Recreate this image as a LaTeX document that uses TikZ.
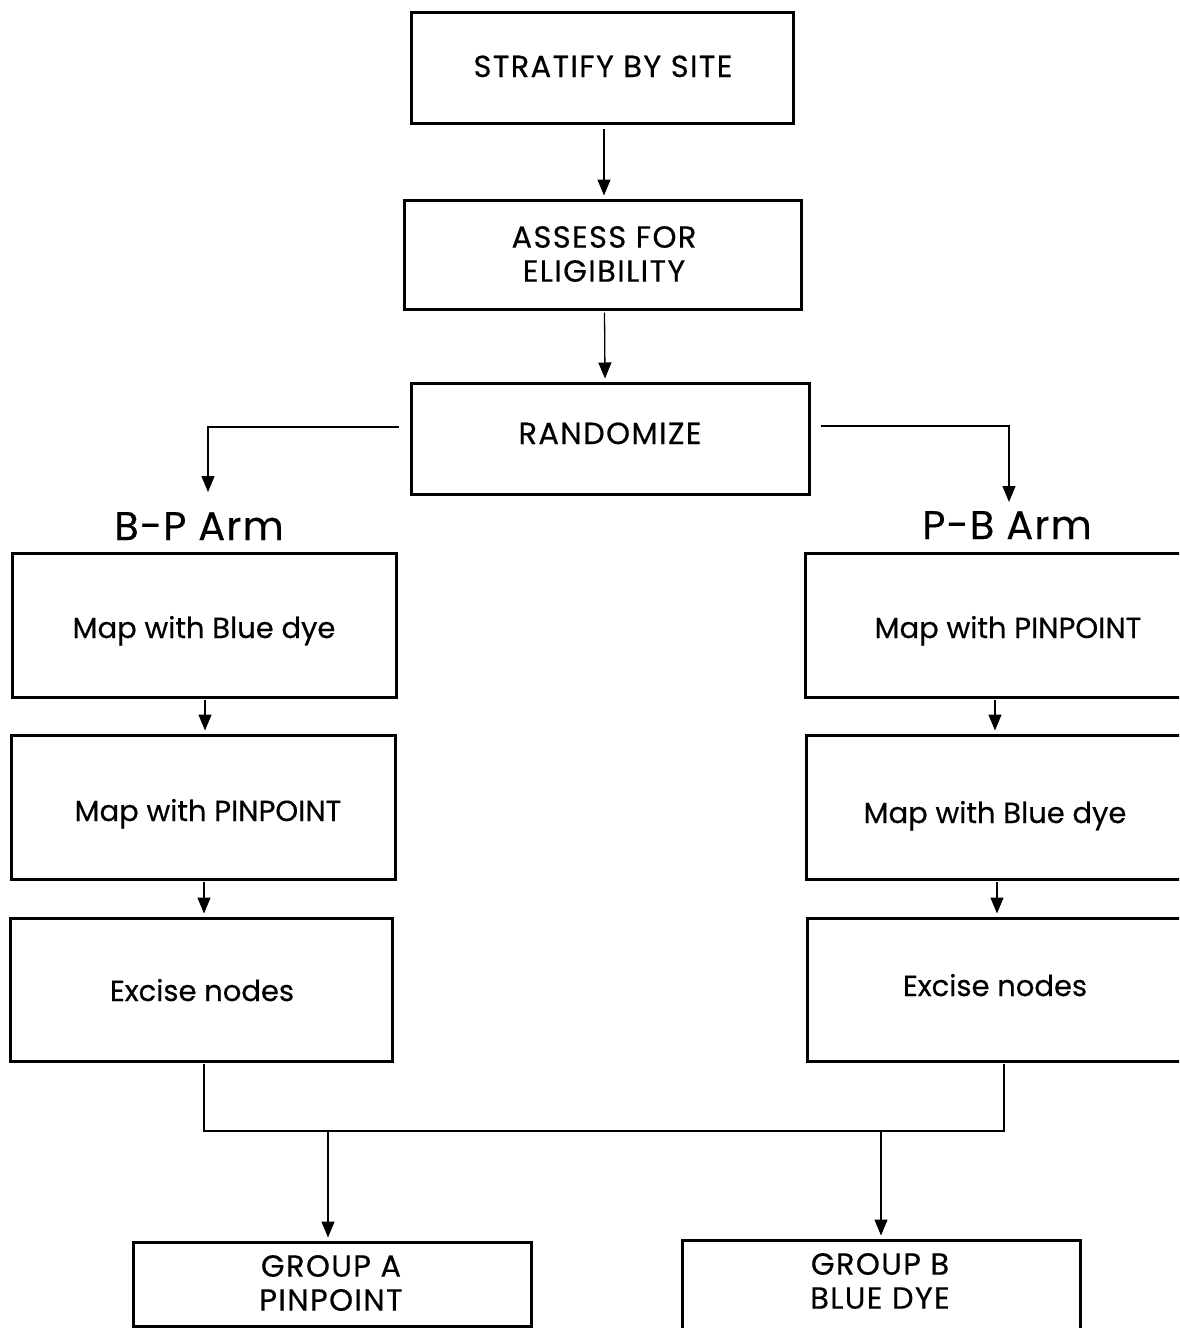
\documentclass[tikz,border=0pt]{standalone}
\usepackage{fontspec}
\setmainfont{Poppins}[FakeBold=0.4]
\usetikzlibrary{arrows.meta,calc}
\begin{document}
\begin{tikzpicture}[x=1pt,y=-1pt,
  box/.style={draw=black,line width=3pt,inner sep=0pt},
  txt/.style={inner sep=0pt,anchor=base,font=\fontsize{29}{34}\selectfont},
  captxt/.style={inner sep=0pt,align=center,font=\fontsize{30.5}{34}\selectfont\addfontfeature{LetterSpace=4.5}},
  armlabel/.style={inner sep=0pt,anchor=base,font=\fontsize{40}{46}\selectfont\addfontfeature{LetterSpace=3}},
  conn/.style={draw=black,line width=1.3pt},
  arr/.style={conn,-{Triangle[width=13pt,length=16pt]}}]
\clip (0,0) rectangle (1179,1328);
\fill[white] (0,0) rectangle (1179,1328);
% top chain
\node[box,minimum width=382pt,minimum height=111pt] (strat) at (602,67.5) {};
\node[captxt,anchor=base] (stratT) at (603,77) {STRATIFY BY SITE};
\node[box,minimum width=397pt,minimum height=109pt] (assess) at (602.5,254.5) {};
\node[captxt] (assessT) at (604,254) {ASSESS FOR\\ELIGIBILITY};
\node[box,minimum width=398pt,minimum height=111pt] (rand) at (610,438.5) {};
\node[captxt,anchor=base] (randT) at (610,444) {RANDOMIZE};
% arm labels
\node[armlabel] (bp) at (199,540) {B-P Arm};
\node[armlabel] (pb) at (1007,539) {P-B Arm};
% left arm
\node[box,minimum width=384pt,minimum height=144pt] (L1) at (204,625) {};
\node[txt] (L1T) at (204,638) {Map with Blue dye};
\node[box,minimum width=384pt,minimum height=144pt] (L2) at (203,807) {};
\node[txt] (L2T) at (208,821) {Map with PINPOINT};
\node[box,minimum width=382pt,minimum height=143pt] (L3) at (201,989.5) {};
\node[txt] (L3T) at (202,1001) {Excise nodes};
% right arm
\node[box,minimum width=406pt,minimum height=144pt] (R1) at (1008,625) {};
\node[txt] (R1T) at (1008,638) {Map with PINPOINT};
\node[box,minimum width=378pt,minimum height=144pt] (R2) at (995,807) {};
\node[txt] (R2T) at (995,823) {Map with Blue dye};
\node[box,minimum width=376pt,minimum height=143pt] (R3) at (995,989.5) {};
\node[txt] (R3T) at (995,996) {Excise nodes};
% groups
\node[box,minimum width=398pt,minimum height=84pt] (GA) at (332,1284) {};
\node[captxt] (GAT) at (331,1283) {GROUP A\\PINPOINT};
\node[box,minimum width=398pt,minimum height=100pt] (GB) at (881,1290) {};
\node[captxt] (GBT) at (880,1281) {GROUP B\\BLUE DYE};
% coordinates
\coordinate (bpin) at (208,492);
\coordinate (pbin) at (1009,502);
\coordinate (mL) at (204,1131);
\coordinate (mR) at (1004,1131);
\coordinate (sA) at (328,1131);
\coordinate (sB) at (881,1131);
% connectors
\draw[arr] ([xshift=2pt,yshift=-4pt]strat.south) -- ([xshift=1.5pt,yshift=3pt]assess.north);
\draw[arr] ([xshift=2pt,yshift=-2pt]assess.south) -- ([xshift=-5pt,yshift=3pt]rand.north);
\draw[arr] ([xshift=-11pt,yshift=11.5pt]rand.west) -| (bpin);
\draw[arr] ([xshift=10pt,yshift=12.5pt]rand.east) -| (pbin);
\draw[arr] ([xshift=1pt,yshift=-1pt]L1.south) -- ([xshift=2pt,yshift=3pt]L2.north);
\draw[arr] ([xshift=1pt,yshift=-1pt]L2.south) -- ([xshift=3pt,yshift=3pt]L3.north);
\draw[arr] ([xshift=-13pt,yshift=-1pt]R1.south) -- ([yshift=3pt]R2.north);
\draw[arr] ([xshift=2pt,yshift=-1pt]R2.south) -- ([xshift=2pt,yshift=3pt]R3.north);
\draw[conn] ([yshift=-1pt]L3.south -| mL) -- (mL) -- (mR) -- ([yshift=-1pt]R3.south -| mR);
\draw[arr] (sA) -- ([yshift=3pt]GA.north -| sA);
\draw[arr] (sB) -- ([yshift=3pt]GB.north);
\end{tikzpicture}
\end{document}
